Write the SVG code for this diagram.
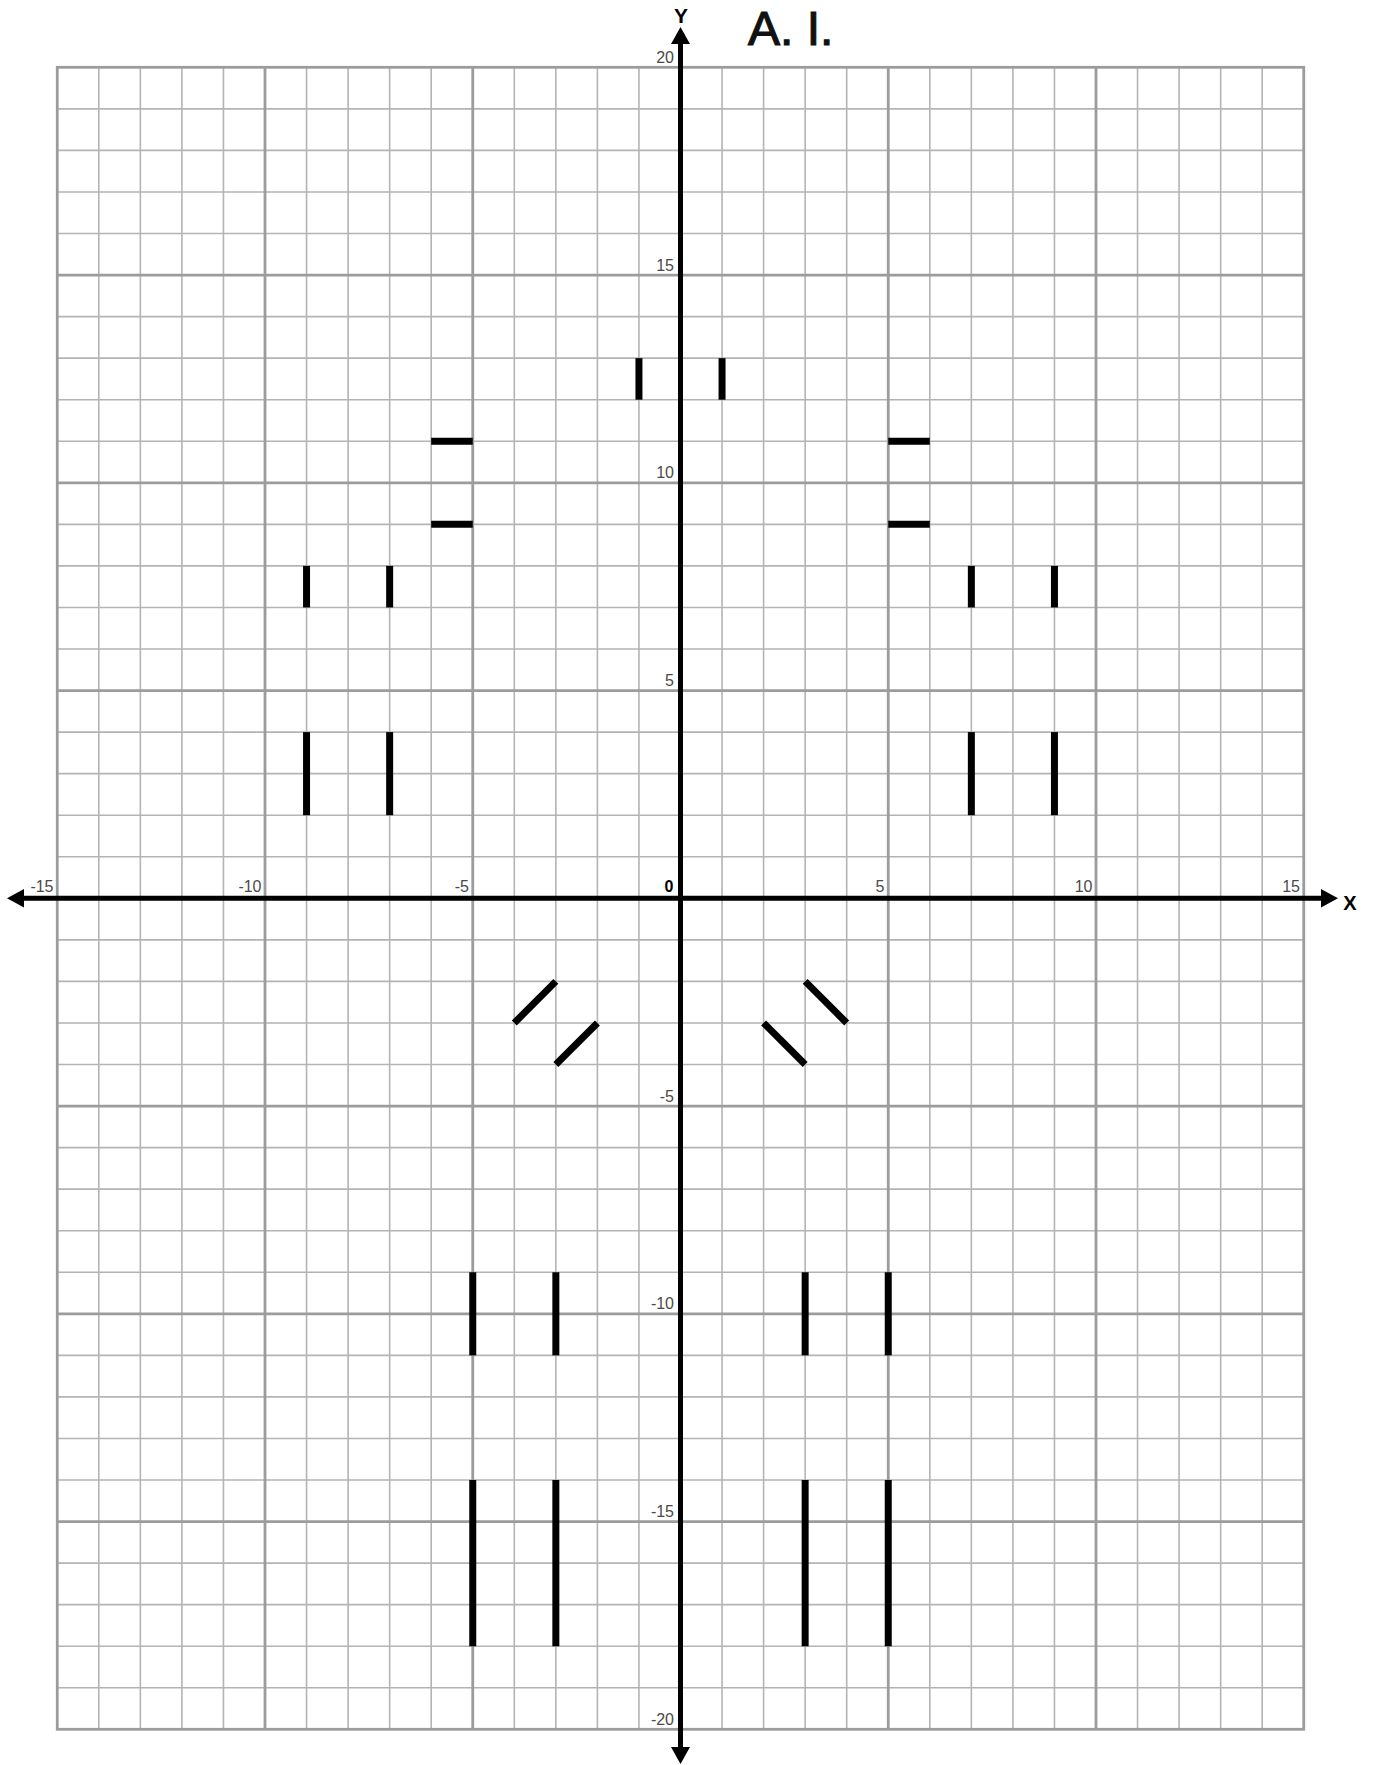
<svg xmlns="http://www.w3.org/2000/svg" width="1376" height="1765" viewBox="0 0 1376 1765">
<style>
.minor{stroke:#b4b4b4;stroke-width:1.6;fill:none}
.major{stroke:#9c9c9c;stroke-width:2.8;fill:none}
.axis{stroke:#000;stroke-width:5;fill:none}
.seg{stroke:#000;stroke-width:7;stroke-linecap:butt;fill:none}
.lab{font-family:"Liberation Sans",Arial,sans-serif;font-size:16px;fill:#4a4a4a;text-anchor:end}
.axl{font-family:"Liberation Sans",Arial,sans-serif;font-weight:bold;fill:#000}
</style>
<rect x="0" y="0" width="1376" height="1765" fill="#fff"/>
<g id="grid">
<path class="minor" d="M98.8 67.3V1729.3M140.35 67.3V1729.3M181.9 67.3V1729.3M223.45 67.3V1729.3M306.55 67.3V1729.3M348.1 67.3V1729.3M389.65 67.3V1729.3M431.2 67.3V1729.3M514.3 67.3V1729.3M555.85 67.3V1729.3M597.4 67.3V1729.3M638.95 67.3V1729.3M722.05 67.3V1729.3M763.6 67.3V1729.3M805.15 67.3V1729.3M846.7 67.3V1729.3M929.8 67.3V1729.3M971.35 67.3V1729.3M1012.9 67.3V1729.3M1054.45 67.3V1729.3M1137.55 67.3V1729.3M1179.1 67.3V1729.3M1220.65 67.3V1729.3M1262.2 67.3V1729.3
M57.25 108.85H1303.75M57.25 150.4H1303.75M57.25 191.95H1303.75M57.25 233.5H1303.75M57.25 316.6H1303.75M57.25 358.15H1303.75M57.25 399.7H1303.75M57.25 441.25H1303.75M57.25 524.35H1303.75M57.25 565.9H1303.75M57.25 607.45H1303.75M57.25 649H1303.75M57.25 732.1H1303.75M57.25 773.65H1303.75M57.25 815.2H1303.75M57.25 856.75H1303.75M57.25 939.85H1303.75M57.25 981.4H1303.75M57.25 1022.95H1303.75M57.25 1064.5H1303.75M57.25 1147.6H1303.75M57.25 1189.15H1303.75M57.25 1230.7H1303.75M57.25 1272.25H1303.75M57.25 1355.35H1303.75M57.25 1396.9H1303.75M57.25 1438.45H1303.75M57.25 1480H1303.75M57.25 1563.1H1303.75M57.25 1604.65H1303.75M57.25 1646.2H1303.75M57.25 1687.75H1303.75"/>
<path class="major" d="M265 67.3V1729.3M472.75 67.3V1729.3M888.25 67.3V1729.3M1096 67.3V1729.3M57.25 275.05H1303.75M57.25 482.8H1303.75M57.25 690.55H1303.75M57.25 1106.05H1303.75M57.25 1313.8H1303.75M57.25 1521.55H1303.75"/>
<rect class="major" x="57.25" y="67.3" width="1246.5" height="1662"/>
</g>
<g id="axes">
<line class="axis" x1="20" y1="898.3" x2="1322" y2="898.3"/>
<polygon points="7,898.3 24,889 24,907.6"/>
<polygon points="1338,898.3 1321,889 1321,907.6"/>
<line class="axis" x1="680.5" y1="42" x2="680.5" y2="1750"/>
<polygon points="680.5,27 671,44 690,44"/>
<polygon points="680.5,1764 671,1747 690,1747"/>
<text class="axl" x="1350" y="910" font-size="20" text-anchor="middle">X</text>
<text class="axl" x="681" y="23" font-size="21" text-anchor="middle">Y</text>
</g>
<g id="labels">
<text class="lab" x="53.5" y="892">-15</text>
<text class="lab" x="261.5" y="892">-10</text>
<text class="lab" x="469" y="892">-5</text>
<text class="lab" x="884.5" y="892">5</text>
<text class="lab" x="1092.5" y="892">10</text>
<text class="lab" x="1300" y="892">15</text>
<text class="lab" x="674" y="63">20</text>
<text class="lab" x="674" y="270.5">15</text>
<text class="lab" x="674" y="478">10</text>
<text class="lab" x="674" y="686">5</text>
<text class="lab" x="674" y="1101.5">-5</text>
<text class="lab" x="674" y="1309">-10</text>
<text class="lab" x="674" y="1517">-15</text>
<text class="lab" x="674" y="1725">-20</text>
<text class="axl" x="673.5" y="892" font-size="16" text-anchor="end" fill="#222">0</text>
</g>
<g id="title">
<text x="748" y="45" font-family="'Liberation Sans',Arial,sans-serif" font-size="48" fill="#111" stroke="#111" stroke-width="1.2">A. I.</text>
</g>
<g id="segments">
<line class="seg" x1="638.95" y1="358.15" x2="638.95" y2="399.7"/>
<line class="seg" x1="722.05" y1="358.15" x2="722.05" y2="399.7"/>
<line class="seg" x1="431.2" y1="441.25" x2="472.75" y2="441.25"/>
<line class="seg" x1="431.2" y1="524.35" x2="472.75" y2="524.35"/>
<line class="seg" x1="888.25" y1="441.25" x2="929.8" y2="441.25"/>
<line class="seg" x1="888.25" y1="524.35" x2="929.8" y2="524.35"/>
<line class="seg" x1="306.55" y1="565.9" x2="306.55" y2="607.45"/>
<line class="seg" x1="389.65" y1="565.9" x2="389.65" y2="607.45"/>
<line class="seg" x1="971.35" y1="565.9" x2="971.35" y2="607.45"/>
<line class="seg" x1="1054.45" y1="565.9" x2="1054.45" y2="607.45"/>
<line class="seg" x1="306.55" y1="732.1" x2="306.55" y2="815.2"/>
<line class="seg" x1="389.65" y1="732.1" x2="389.65" y2="815.2"/>
<line class="seg" x1="971.35" y1="732.1" x2="971.35" y2="815.2"/>
<line class="seg" x1="1054.45" y1="732.1" x2="1054.45" y2="815.2"/>
<line class="seg" x1="514.3" y1="1022.95" x2="555.85" y2="981.4"/>
<line class="seg" x1="555.85" y1="1064.5" x2="597.4" y2="1022.95"/>
<line class="seg" x1="763.6" y1="1022.95" x2="805.15" y2="1064.5"/>
<line class="seg" x1="805.15" y1="981.4" x2="846.7" y2="1022.95"/>
<line class="seg" x1="472.75" y1="1272.25" x2="472.75" y2="1355.35"/>
<line class="seg" x1="555.85" y1="1272.25" x2="555.85" y2="1355.35"/>
<line class="seg" x1="805.15" y1="1272.25" x2="805.15" y2="1355.35"/>
<line class="seg" x1="888.25" y1="1272.25" x2="888.25" y2="1355.35"/>
<line class="seg" x1="472.75" y1="1480" x2="472.75" y2="1646.2"/>
<line class="seg" x1="555.85" y1="1480" x2="555.85" y2="1646.2"/>
<line class="seg" x1="805.15" y1="1480" x2="805.15" y2="1646.2"/>
<line class="seg" x1="888.25" y1="1480" x2="888.25" y2="1646.2"/>
</g>
</svg>
